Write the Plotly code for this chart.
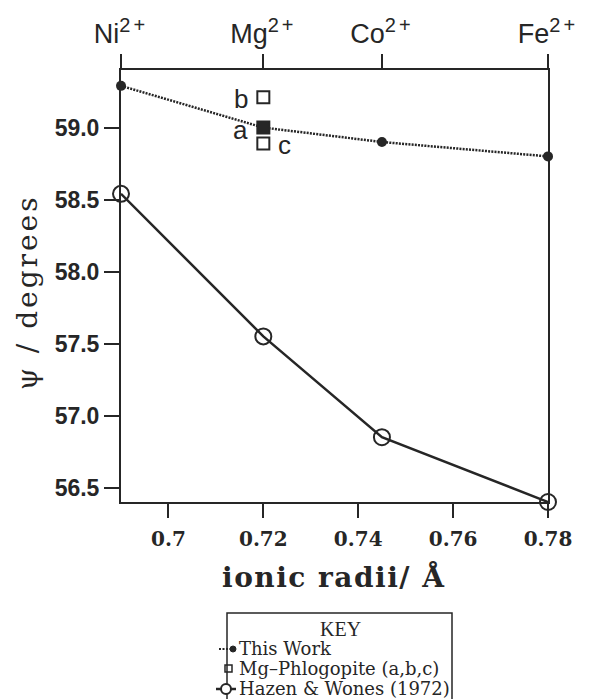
import plotly.graph_objects as go

# ---- data ----
ion_names = ["Ni", "Mg", "Co", "Fe"]
ion_charge = "2+"
ionic_radii = [0.69, 0.72, 0.745, 0.78]
psi_this_work = [59.29, 59.00, 58.90, 58.80]
psi_hazen_wones = [58.54, 57.55, 56.85, 56.40]
phlog_labels = ["b", "a", "c"]
phlog_radii = [0.72, 0.72, 0.72]
psi_phlogopite = [59.21, 59.00, 58.89]
phlog_symbols = ["square-open", "square", "square-open"]
phlog_label_side = ["left", "left", "right"]
x_ticks = [0.70, 0.72, 0.74, 0.76, 0.78]
x_ticktext = ["0.7", "0.72", "0.74", "0.76", "0.78"]
y_ticks = [56.5, 57.0, 57.5, 58.0, 58.5, 59.0]

ion_labels = [f"{n}<sup><span style='font-size:20px;letter-spacing:3px'>{ion_charge}</span></sup>"
              for n in ion_names]

# ---- layout geometry (pixels) ----
W, H = 600, 699
L, R, T, B = 121, 52, 70, 197
PW, PH = W - L - R, H - T - B
INK = "#262626"
SERIF = "DejaVu Serif, Liberation Serif, serif"

def px_x(px):
    return (px - L) / PW

def px_y(py):
    return (H - B - py) / PH

fig = go.Figure()

fig.add_trace(go.Scatter(
    x=ionic_radii, y=psi_hazen_wones, mode="lines+markers",
    line=dict(color=INK, width=2.5),
    marker=dict(symbol="circle-open", size=16, color=INK, line=dict(width=2)),
    cliponaxis=False, showlegend=False, name="Hazen & Wones (1972)"))

fig.add_trace(go.Scatter(
    x=ionic_radii, y=psi_this_work, mode="lines+markers",
    line=dict(color=INK, width=2.5, dash="2px,1.2px"),
    marker=dict(symbol="circle", size=10, color=INK),
    cliponaxis=False, showlegend=False, name="This Work"))

fig.add_trace(go.Scatter(
    x=phlog_radii, y=psi_phlogopite, mode="markers",
    marker=dict(symbol=phlog_symbols, size=12, color=INK, line=dict(width=2, color=INK)),
    cliponaxis=False, showlegend=False, name="Mg-Phlogopite (a,b,c)"))

# invisible trace carrying the top (ion) axis
fig.add_trace(go.Scatter(x=ionic_radii, y=psi_this_work, xaxis="x2", mode="markers",
                         marker=dict(opacity=0), showlegend=False, hoverinfo="skip"))

fig.update_layout(
    width=W, height=H, margin=dict(l=L, r=R, t=T, b=B),
    paper_bgcolor="white", plot_bgcolor="white",
    xaxis=dict(range=[0.69, 0.78], tickvals=x_ticks, ticktext=x_ticktext,
               showline=True, linecolor=INK, linewidth=2, ticks="outside",
               ticklen=14, tickwidth=2, tickcolor=INK, showgrid=False, zeroline=False,
               ticklabelstandoff=4,
               tickfont=dict(family=SERIF, size=20, color=INK, weight="bold")),
    xaxis2=dict(range=[0.69, 0.78], overlaying="x", side="top", anchor="y",
                tickvals=ionic_radii, ticktext=ion_labels,
                showline=True, linecolor=INK, linewidth=2, ticks="outside",
                ticklen=14, tickwidth=2, tickcolor=INK, showgrid=False, zeroline=False,
                tickfont=dict(family="Liberation Sans", size=27, color=INK)),
    yaxis=dict(range=[56.4, 59.4], tickvals=y_ticks, tickformat=".1f",
               showline=True, mirror=True, linecolor=INK, linewidth=2, ticks="outside",
               ticklen=15, tickwidth=2, tickcolor=INK, showgrid=False, zeroline=False,
               tickfont=dict(family="Liberation Sans", size=23, color=INK, weight="bold")),
    showlegend=False,
)

ann = []
# phlogopite point labels, anchored to the data points
for lab, xr, yv, side in zip(phlog_labels, phlog_radii, psi_phlogopite, phlog_label_side):
    ann.append(dict(text=lab, x=xr, y=yv, xref="x", yref="y", showarrow=False,
                    xanchor="right" if side == "left" else "left", yanchor="middle",
                    xshift=-13 if side == "left" else 13, yshift=-2,
                    font=dict(family="Liberation Sans", size=26, color=INK)))

ann.append(dict(text="<span style='letter-spacing:1.5px'>ionic radii/ Å</span>",
                xref="paper", yref="paper",
                x=px_x(334), y=px_y(577), xanchor="center", yanchor="middle",
                showarrow=False, font=dict(family=SERIF, size=28, color=INK, weight="bold")))
ann.append(dict(text="<span style='letter-spacing:3px'>ψ / degrees</span>",
                xref="paper", yref="paper", textangle=-90,
                x=px_x(27), y=px_y(292), xanchor="center", yanchor="middle",
                showarrow=False, font=dict(family=SERIF, size=28, color=INK)))

# key box
ann.append(dict(text="KEY", xref="paper", yref="paper", x=px_x(340), y=px_y(629),
                xanchor="center", yanchor="middle", showarrow=False,
                font=dict(family="Liberation Serif", size=20, color=INK)))
key_entries = ["This Work", "Mg–Phlogopite (a,b,c)", "Hazen & Wones (1972)"]
key_rows = [648, 668, 688]
for txt, ry in zip(key_entries, key_rows):
    ann.append(dict(text=txt, xref="paper", yref="paper", x=px_x(237), y=px_y(ry),
                    xanchor="left", yanchor="middle", showarrow=False,
                    font=dict(family=SERIF, size=18, color=INK)))
fig.update_layout(annotations=ann)

shapes = []
shapes.append(dict(type="rect", xref="paper", yref="paper",
                   x0=px_x(227), x1=px_x(452), y0=px_y(613), y1=px_y(712),
                   line=dict(color=INK, width=1.5)))
# sample: this work
shapes.append(dict(type="line", xref="paper", yref="paper",
                   x0=px_x(219), x1=px_x(232), y0=px_y(649), y1=px_y(649),
                   line=dict(color=INK, width=2, dash="2px,1.5px")))
shapes.append(dict(type="circle", xref="paper", yref="paper",
                   x0=px_x(230), x1=px_x(236), y0=px_y(646), y1=px_y(652),
                   fillcolor=INK, line=dict(color=INK, width=1)))
# sample: phlogopite
shapes.append(dict(type="rect", xref="paper", yref="paper",
                   x0=px_x(225), x1=px_x(232), y0=px_y(665), y1=px_y(672),
                   line=dict(color=INK, width=1.5)))
# sample: hazen & wones
shapes.append(dict(type="line", xref="paper", yref="paper",
                   x0=px_x(216), x1=px_x(236), y0=px_y(689), y1=px_y(689),
                   line=dict(color=INK, width=2.5)))
shapes.append(dict(type="circle", xref="paper", yref="paper",
                   x0=px_x(221), x1=px_x(231), y0=px_y(684), y1=px_y(694),
                   fillcolor="white", line=dict(color=INK, width=2)))
fig.update_layout(shapes=shapes)

fig.write_html("out.html")
